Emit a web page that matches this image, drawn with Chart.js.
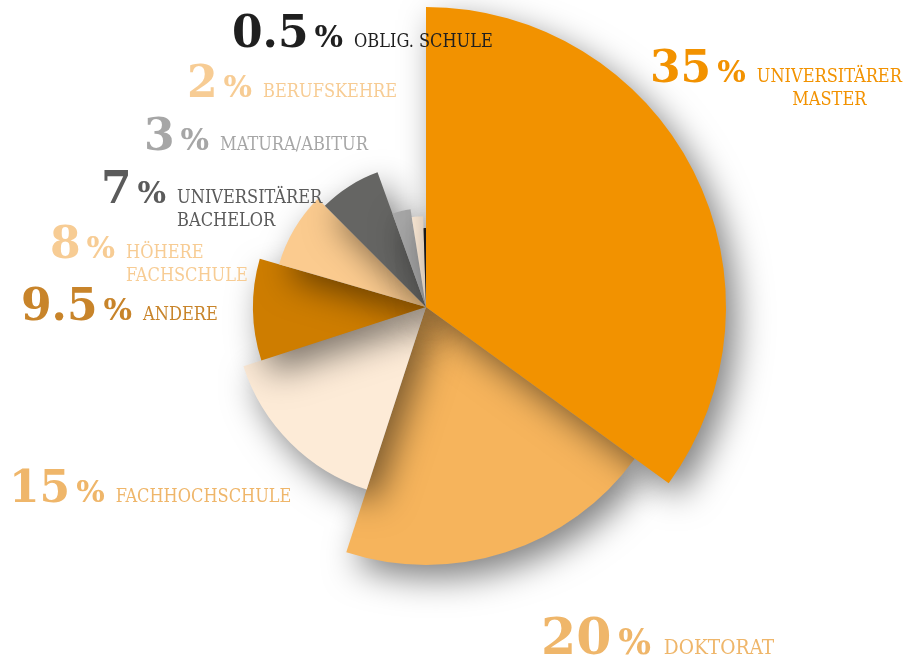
<!DOCTYPE html>
<html>
<head>
<meta charset="utf-8">
<script src="https://cdn.jsdelivr.net/npm/chart.js@4"></script>
<style>
    html, body { margin: 0; padding: 0; background: #ffffff; }
    #wrap { width: 911px; height: 663px; position: relative; }
</style>
</head>
<body>
<div id="wrap"><canvas id="edu-chart" width="911" height="663"></canvas></div>
<script>
/* ============================== DATA ============================== */
// listed in drawing order (clockwise, starting after "Universitärer Master")
const labelLines = [
    ['DOKTORAT'],
    ['FACHHOCHSCHULE'],
    ['ANDERE'],
    ['HÖHERE', 'FACHSCHULE'],
    ['UNIVERSITÄRER', 'BACHELOR'],
    ['MATURA/ABITUR'],
    ['BERUFSKEHRE'],
    ['OBLIG. SCHULE'],
    ['UNIVERSITÄRER', 'MASTER']
];
const shares = [20, 15, 9.5, 8, 7, 3, 2, 0.5, 35];          // percent, slice angle
const reach  = [86, 64, 57.7, 51, 47.7, 33, 30.3, 26.3, 100]; // relative slice length
const shareText = ['20', '15', '9.5', '8', '7', '3', '2', '0.5', '35'];

/* ============================== STYLE ============================== */
const sliceColors = ['#F6B45C', '#FDEBD7', '#CE7D00', '#FBCB8F', '#656563', '#A8A8A8', '#FDEBD7', '#1E1E1E', '#F29200'];
const textColors  = ['#EFB66A', '#EFB66A', '#C8842A', '#F7CC94', '#5B5B5B', '#A6A6A6', '#F7CC94', '#1F1F1F', '#F29200'];
// label anchors: left edge of the big number, baseline, text scale
const labelPos = [
    { x: 541, y: 654, s: 1.15 },
    { x: 9,   y: 502, s: 1 },
    { x: 21,  y: 320, s: 1 },
    { x: 50,  y: 258, s: 1 },
    { x: 101, y: 203, s: 1 },
    { x: 144, y: 150, s: 1 },
    { x: 187, y: 97,  s: 1 },
    { x: 232, y: 47,  s: 1 },
    { x: 650, y: 82,  s: 1, center: true }
];
const labelFont = '"DejaVu Serif Condensed", "DejaVu Serif"';


/* ============================== PLUGINS ============================== */
const reachPlugin = {
    id: 'reachPlugin',
    beforeDatasetsDraw(chart) {
        const meta = chart.getDatasetMeta(0);
        const maxR = Math.max(...meta.data.map(a => a.outerRadius));
        const top = Math.max(...reach);
        meta.data.forEach((arc, i) => {
            arc.outerRadius = maxR * reach[i] / top;
        });
    }
};

const shadowPlugin = {
    id: 'shadowPlugin',
    beforeDatasetsDraw(chart) {
        const { ctx } = chart;
        ctx.save();
        ctx.shadowColor = 'rgba(0, 0, 0, 0.5)';
        ctx.shadowBlur = 34;
        ctx.shadowOffsetX = 10;
        ctx.shadowOffsetY = 13;
    },
    afterDatasetsDraw(chart) {
        chart.ctx.restore();
    }
};

const labelPlugin = {
    id: 'labelPlugin',
    afterDraw(chart) {
        const { ctx } = chart;
        ctx.save();
        ctx.textBaseline = 'alphabetic';
        ctx.textAlign = 'left';
        shares.forEach((v, i) => {
            const p = labelPos[i];
            ctx.fillStyle = textColors[i];

            ctx.font = 'bold ' + (44 * p.s) + 'px "DejaVu Serif"';
            ctx.fillText(shareText[i], p.x, p.y);
            let x = p.x + ctx.measureText(shareText[i]).width + 6 * p.s;

            ctx.font = 'bold ' + (30 * p.s) + 'px "DejaVu Serif"';
            ctx.fillText('%', x, p.y);
            x += ctx.measureText('%').width + 11 * p.s;

            ctx.font = (18 * p.s) + 'px ' + labelFont;
            const first = labelLines[i][0];
            const w1 = ctx.measureText(first).width;
            ctx.fillText(first, x, p.y);
            if (labelLines[i][1]) {
                const second = labelLines[i][1];
                const w2 = ctx.measureText(second).width;
                const x2 = p.center ? x + (w1 - w2) / 2 : x;
                ctx.fillText(second, x2, p.y + 23);
            }
        });
        ctx.restore();
    }
};


/* ============================== GRAPH ============================== */
function educationChart() {
    const ctx = document.getElementById('edu-chart').getContext('2d');
    const total = shares.reduce((a, b) => a + b, 0);

    new Chart(ctx, {
        type: 'pie',
        data: {
            labels: labelLines.map(l => l.join(' ')),
            datasets: [{
                data: shares,
                backgroundColor: sliceColors,
                borderWidth: 0,
                hoverOffset: 0,
                offset: 0
            }]
        },
        options: {
            responsive: false,
            animation: false,
            events: [],
            // first drawn slice starts where the master slice ends
            rotation: 360 * shares[shares.length - 1] / total,
            layout: { padding: { left: 126, right: 185, top: 7, bottom: 56 } },
            plugins: {
                legend: { display: false },
                tooltip: { enabled: false }
            }
        },
        plugins: [reachPlugin, shadowPlugin, labelPlugin]
    });
}

educationChart();
</script>
</body>
</html>
